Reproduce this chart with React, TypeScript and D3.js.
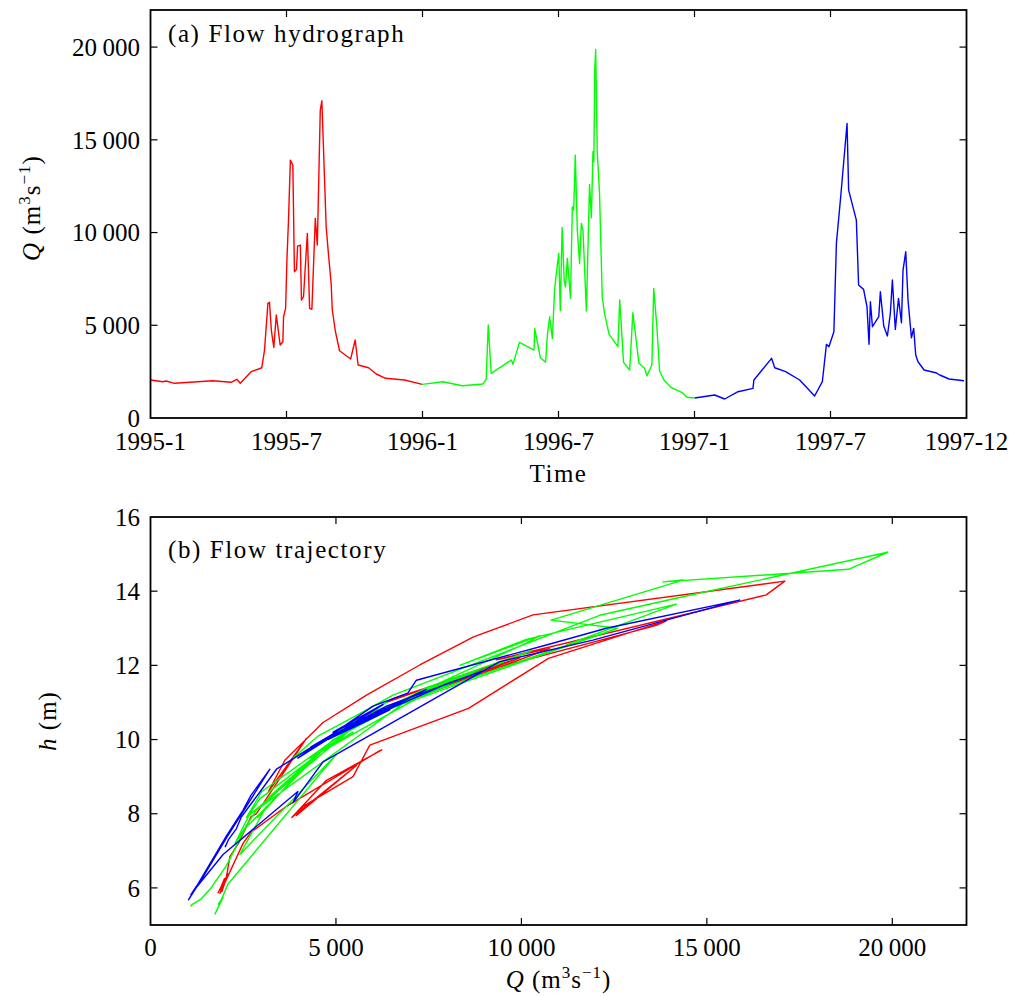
import React from 'react';
import * as d3 from 'd3';

// ---- axis ticks ----
const monthTicks = [0, 6, 12, 18, 24, 30, 36];
const monthTickLabels = ['1995-1', '1995-7', '1996-1', '1996-7', '1997-1', '1997-7', '1997-12'];
const qTicks = [0, 5000, 10000, 15000, 20000];
const hTicks = [6, 8, 10, 12, 14, 16];

// ---- 1995 (red): time in months since 1995-1, discharge Q (m3/s), stage h (m) ----
const t1995 = [0.00, 0.54, 0.69, 1.06, 2.75, 3.56, 3.81, 3.96, 4.44, 4.91, 5.03, 5.18, 5.25, 5.33, 5.44, 5.55, 5.72, 5.84, 5.87, 5.96, 6.02, 6.09, 6.17, 6.28, 6.35, 6.44, 6.49, 6.61, 6.66, 6.75, 6.92, 7.02, 7.12, 7.27, 7.36, 7.49, 7.56, 7.75, 7.86, 7.97, 8.02, 8.16, 8.34, 8.83, 9.03, 9.16, 9.62, 9.96, 10.37, 11.21, 11.99];
const q1995 = [2048, 1957, 1994, 1870, 2010, 1924, 2086, 1870, 2496, 2711, 3665, 6182, 6236, 4743, 3810, 5552, 3935, 4113, 5460, 5913, 8574, 10730, 13906, 13637, 7886, 8015, 9271, 9325, 6360, 6538, 9955, 5913, 5859, 10764, 9325, 16601, 17103, 10313, 8709, 7260, 5823, 4652, 3627, 3180, 4204, 2857, 2711, 2372, 2140, 2048, 1816];
const h1995 = [6.30, 6.15, 6.25, 5.95, 6.20, 5.90, 6.38, 5.85, 7.20, 7.50, 8.20, 9.70, 9.72, 8.90, 7.90, 9.30, 7.95, 8.20, 9.00, 9.85, 10.84, 12.19, 13.20, 13.08, 11.55, 11.60, 12.00, 12.05, 11.00, 11.10, 12.20, 10.70, 10.65, 12.45, 12.15, 13.90, 14.27, 13.36, 12.77, 12.01, 11.20, 10.46, 9.45, 8.60, 10.03, 8.00, 7.92, 7.20, 6.84, 6.30, 5.86];

// ---- 1996 (green) ----
const t1996 = [11.99, 12.90, 13.76, 14.66, 14.81, 14.90, 15.03, 15.92, 15.99, 16.28, 16.92, 16.95, 17.20, 17.43, 17.51, 17.61, 17.73, 17.83, 18.01, 18.08, 18.16, 18.25, 18.31, 18.39, 18.53, 18.61, 18.67, 18.74, 18.83, 18.93, 19.01, 19.08, 19.23, 19.37, 19.45, 19.52, 19.56, 19.60, 19.64, 19.71, 19.81, 19.93, 20.03, 20.23, 20.62, 20.70, 20.87, 21.14, 21.28, 21.55, 21.80, 21.90, 22.12, 22.20, 22.34, 22.46, 22.65, 22.98, 23.46, 23.67, 24.01];
const q1996 = [1816, 1957, 1741, 1833, 2086, 5013, 2409, 3126, 2894, 4080, 3665, 4834, 3250, 3002, 4473, 5460, 4293, 6990, 8877, 5783, 10278, 7438, 7077, 8608, 6451, 11389, 11211, 14176, 10133, 8338, 10493, 10133, 5767, 12596, 10800, 14354, 13815, 18817, 19873, 14354, 12111, 6538, 5644, 4527, 3845, 6360, 3002, 2587, 5676, 2948, 2679, 2280, 2857, 6990, 4921, 2549, 2048, 1633, 1364, 1116, 1078];
const h1996 = [5.55, 5.75, 5.30, 5.50, 6.10, 9.60, 6.90, 8.20, 7.90, 9.20, 8.80, 9.90, 8.50, 8.20, 9.60, 10.20, 9.50, 11.00, 11.90, 10.60, 12.40, 11.40, 11.20, 11.80, 10.90, 12.60, 12.55, 13.65, 12.70, 12.00, 12.80, 12.60, 10.60, 13.00, 13.22, 14.30, 14.25, 14.59, 15.05, 13.85, 13.35, 11.20, 10.70, 10.10, 9.50, 11.00, 8.60, 7.90, 10.50, 8.40, 8.00, 7.20, 8.10, 11.10, 10.00, 7.60, 6.60, 6.00, 5.70, 5.55, 5.50];

// ---- 1997 (blue) ----
const t1997 = [24.01, 24.89, 25.33, 25.92, 26.58, 26.62, 27.40, 27.54, 28.02, 28.64, 29.30, 29.64, 29.82, 29.93, 30.15, 30.26, 30.45, 30.73, 30.80, 31.14, 31.24, 31.46, 31.61, 31.70, 31.76, 31.85, 32.13, 32.20, 32.35, 32.51, 32.64, 32.73, 32.86, 33.00, 33.13, 33.20, 33.32, 33.42, 33.57, 33.67, 33.76, 33.86, 34.13, 34.64, 34.82, 35.23, 35.89];
const q1997 = [1078, 1240, 1024, 1418, 1600, 2048, 3218, 2711, 2496, 2048, 1186, 1957, 3972, 3845, 4652, 9416, 11928, 15883, 12290, 10672, 7168, 6936, 5999, 3972, 6269, 4921, 5460, 6808, 4959, 4420, 5644, 7438, 4781, 6451, 5137, 7977, 8964, 6360, 4328, 4834, 3396, 3034, 2587, 2442, 2318, 2102, 2010];
const h1997 = [5.80, 6.05, 5.68, 6.30, 6.60, 7.35, 9.20, 8.50, 8.10, 7.40, 5.95, 6.90, 8.60, 8.30, 9.40, 12.10, 12.68, 13.76, 13.00, 12.55, 11.60, 11.25, 10.90, 9.50, 10.95, 10.20, 10.45, 11.05, 10.10, 9.85, 10.50, 11.35, 10.00, 10.80, 10.25, 11.50, 11.85, 10.90, 9.80, 10.10, 9.20, 8.70, 8.10, 7.90, 7.60, 7.30, 7.10];

const years = [
  { t: t1995, q: q1995, h: h1995, color: '#ff0000' },
  { t: t1996, q: q1996, h: h1996, color: '#00ff00' },
  { t: t1997, q: q1997, h: h1997, color: '#0000ff' },
];

const W = 1014;
const H = 996;
const LEFT = 150.5;
const RIGHT = 966.5;
const A_TOP = 10;
const A_BOT = 418;
const B_TOP = 517;
const B_BOT = 925;
const FONT = '"Liberation Serif", "LiberationSerif", "DejaVu Serif", "DejaVuSerif", "Noto Serif", Tinos, FreeSerif, "Nimbus Roman", "Nimbus Roman No9 L", Times, "Times New Roman", serif';
const FS = 25;
const TICK = 7;

const textStyle = { fontFamily: FONT, fontSize: FS };

const xTime = d3.scaleLinear().domain([0, 36]).range([LEFT, RIGHT]);
const yQ = d3.scaleLinear().domain([0, 22000]).range([A_BOT, A_TOP]);
const xQ = d3.scaleLinear().domain([0, 22000]).range([LEFT, RIGHT]);
const yH = d3.scaleLinear().domain([5, 16]).range([B_BOT, B_TOP]);

function Num({ v, x, y, anchor }: { v: number; x: number; y: number; anchor: string }) {
  const s = String(v);
  if (s.length < 4) {
    return (
      <text x={x} y={y} textAnchor={anchor} style={textStyle} fill="#000">{s}</text>
    );
  }
  const head = s.slice(0, s.length - 3);
  const tail = s.slice(s.length - 3);
  return (
    <text x={x} y={y} textAnchor={anchor} style={textStyle} fill="#000">
      <tspan>{head}</tspan>
      <tspan dx={5.5}>{tail}</tspan>
    </text>
  );
}

function QUnit() {
  return (
    <>
      <tspan style={{ fontStyle: 'italic' }}>Q</tspan>
      <tspan> (m</tspan>
      <tspan style={{ fontSize: 17 }} dy={-10}>3</tspan>
      <tspan dy={10}>s</tspan>
      <tspan style={{ fontSize: 17 }} dy={-10}>−1</tspan>
      <tspan dy={10}>)</tspan>
    </>
  );
}

function Frame({ top, bottom }: { top: number; bottom: number }) {
  return (
    <rect x={LEFT} y={top} width={RIGHT - LEFT} height={bottom - top} fill="none" stroke="#000" strokeWidth={1.8} />
  );
}

export default function App() {
  const lineA = (d: { t: number[]; q: number[] }) =>
    d3.line<number>().x((i) => xTime(d.t[i])).y((i) => yQ(d.q[i]))(d3.range(d.t.length)) || '';
  const lineB = (d: { q: number[]; h: number[] }) =>
    d3.line<number>().x((i) => xQ(d.q[i])).y((i) => yH(d.h[i]))(d3.range(d.q.length)) || '';

  return (
    <svg width={W} height={H} style={{ position: 'absolute', left: 0, top: 0, background: '#fff' }}>
      <rect width={W} height={H} fill="#fff" />

      {/* ---------- Panel (a) ---------- */}
      {years.map((d, i) => (
        <path key={'a' + i} d={lineA(d)} fill="none" stroke={d.color} strokeWidth={1.4} strokeLinejoin="round" />
      ))}
      {monthTicks.slice(1, -1).map((m) => (
        <g key={'ma' + m} stroke="#000" strokeWidth={1.2}>
          <line x1={xTime(m)} x2={xTime(m)} y1={A_BOT} y2={A_BOT - TICK} />
          <line x1={xTime(m)} x2={xTime(m)} y1={A_TOP} y2={A_TOP + TICK} />
        </g>
      ))}
      {qTicks.slice(1).map((q) => (
        <g key={'qa' + q} stroke="#000" strokeWidth={1.2}>
          <line x1={LEFT} x2={LEFT + TICK} y1={yQ(q)} y2={yQ(q)} />
          <line x1={RIGHT} x2={RIGHT - TICK} y1={yQ(q)} y2={yQ(q)} />
        </g>
      ))}
      <Frame top={A_TOP} bottom={A_BOT} />
      {monthTicks.map((m, i) => (
        <text key={'ml' + m} x={xTime(m)} y={450} textAnchor="middle" style={textStyle} fill="#000">
          {monthTickLabels[i]}
        </text>
      ))}
      {qTicks.map((q) => (
        <Num key={'ql' + q} v={q} x={140} y={yQ(q) + 8.7} anchor="end" />
      ))}
      <text x={168} y={42} style={{ ...textStyle, letterSpacing: 1.6 }} fill="#000">(a) Flow hydrograph</text>
      <text x={558.5} y={481.5} textAnchor="middle" style={{ ...textStyle, letterSpacing: 1.5 }} fill="#000">Time</text>
      <text transform={`translate(40,${(A_TOP + A_BOT) / 2 - 6}) rotate(-90)`} textAnchor="middle" style={{ ...textStyle, letterSpacing: 1 }} fill="#000">
        <QUnit />
      </text>

      {/* ---------- Panel (b) ---------- */}
      {years.map((d, i) => (
        <path key={'b' + i} d={lineB(d)} fill="none" stroke={d.color} strokeWidth={1.4} strokeLinejoin="round" />
      ))}
      {qTicks.slice(1).map((q) => (
        <g key={'qb' + q} stroke="#000" strokeWidth={1.2}>
          <line x1={xQ(q)} x2={xQ(q)} y1={B_BOT} y2={B_BOT - TICK} />
          <line x1={xQ(q)} x2={xQ(q)} y1={B_TOP} y2={B_TOP + TICK} />
        </g>
      ))}
      {hTicks.slice(0, -1).map((h) => (
        <g key={'hb' + h} stroke="#000" strokeWidth={1.2}>
          <line x1={LEFT} x2={LEFT + TICK} y1={yH(h)} y2={yH(h)} />
          <line x1={RIGHT} x2={RIGHT - TICK} y1={yH(h)} y2={yH(h)} />
        </g>
      ))}
      <Frame top={B_TOP} bottom={B_BOT} />
      {qTicks.map((q) => (
        <Num key={'qbl' + q} v={q} x={xQ(q)} y={956} anchor="middle" />
      ))}
      {hTicks.map((h) => (
        <text key={'hl' + h} x={140} y={yH(h) + 8.7} textAnchor="end" style={textStyle} fill="#000">{h}</text>
      ))}
      <text x={168} y={558} style={{ ...textStyle, letterSpacing: 1.6 }} fill="#000">(b) Flow trajectory</text>
      <text x={558.5} y={988} textAnchor="middle" style={{ ...textStyle, letterSpacing: 1 }} fill="#000">
        <QUnit />
      </text>
      <text transform={`translate(56,${(B_TOP + B_BOT) / 2}) rotate(-90)`} textAnchor="middle" style={{ ...textStyle, letterSpacing: 1 }} fill="#000">
        <tspan style={{ fontStyle: 'italic' }}>h</tspan>
        <tspan> (m)</tspan>
      </text>
    </svg>
  );
}
